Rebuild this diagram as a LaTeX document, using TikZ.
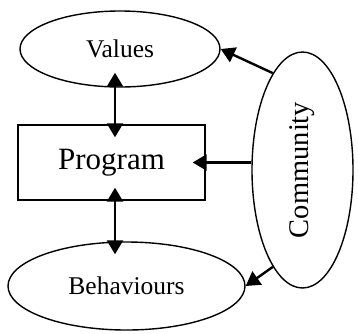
\documentclass[tikz,border=0pt]{standalone}
\usepackage{fontspec}
\setmainfont{Liberation Serif}
\usetikzlibrary{shapes.geometric,arrows.meta}
\tikzset{
  oval/.style={draw,ellipse,line width=1.4pt,inner sep=0pt},
  box/.style={draw,rectangle,line width=1.4pt,inner sep=0pt},
  oneway/.style={line width=2.4pt,-{Triangle[length=14pt,width=16pt]}},
  twoway/.style={line width=2.4pt,{Triangle[length=14pt,width=16pt]}-{Triangle[length=14pt,width=16pt]}},
}
\begin{document}
\begin{tikzpicture}[x=1pt,y=-1pt]
\useasboundingbox (0,0) rectangle (358,333);
\node[oval,minimum width=200pt,minimum height=76pt,font=\fontsize{25.5}{28}\selectfont] (values) at (120,49) {Values};
\node[box,minimum width=187pt,minimum height=75pt,font=\fontsize{31}{34}\selectfont] (program) at (111.5,162.5) {Program};
\node[oval,minimum width=237pt,minimum height=88pt,font=\fontsize{25.5}{28}\selectfont] (behaviours) at (126.5,286) {Behaviours};
\node[oval,minimum width=101pt,minimum height=236pt,font=\fontsize{28.5}{32}\selectfont] (community) at (302.5,170) {\rotatebox{90}{Community}};

\draw[twoway,shorten <=-13pt,shorten >=-15pt] ([xshift=3.5pt]program.north)--([xshift=3.5pt]program.north |- values.south);
\draw[twoway,shorten <=-13pt,shorten >=-13pt] ([xshift=3.5pt]program.south)--([xshift=3.5pt]program.south |- behaviours.north);
\draw[oneway,shorten >=-13pt] (program.east -| community.west)--(program.east);
\draw[oneway] (community.107)--(values.east);
\draw[oneway] (community.-107)--(behaviours.east);
\end{tikzpicture}
\end{document}
